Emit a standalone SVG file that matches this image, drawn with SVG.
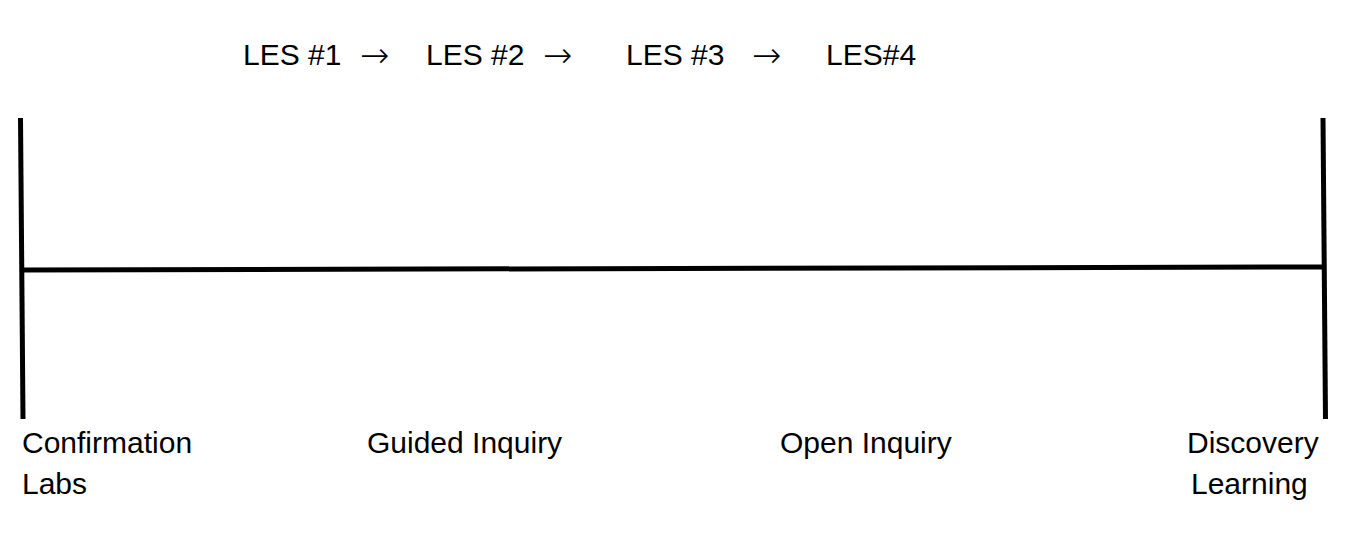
<svg xmlns="http://www.w3.org/2000/svg" width="1351" height="538" viewBox="0 0 1351 538">
<style>
text{font-family:"Liberation Sans",Arial,sans-serif;font-size:30px;fill:#000}
text.ar{font-family:"DejaVu Sans",sans-serif;font-size:35px;font-weight:200}
.ln{stroke:#000;stroke-width:5;fill:none}
</style>
<rect width="1351" height="538" fill="#fff"/>
<g id="connectors">
<line class="ln" x1="20.5" y1="118" x2="23" y2="419"/>
<line class="ln" x1="1323" y1="118" x2="1325.5" y2="419"/>
<line class="ln" x1="21" y1="270" x2="1324" y2="267"/>
</g>
<g id="sequence">
<text x="243" y="65">LES #1</text>
<text class="ar" x="360" y="67">→</text>
<text x="426" y="65">LES #2</text>
<text class="ar" x="543" y="67">→</text>
<text x="626" y="65">LES #3</text>
<text class="ar" x="752" y="67">→</text>
<text x="826" y="65">LES#4</text>
</g>
<g id="confirmation"><text x="22" y="453">Confirmation</text><text x="22" y="494">Labs</text></g>
<g id="guided"><text x="367" y="453">Guided Inquiry</text></g>
<g id="open"><text x="780" y="453">Open Inquiry</text></g>
<g id="discovery"><text x="1187" y="453">Discovery</text><text x="1191" y="494">Learning</text></g>
</svg>
